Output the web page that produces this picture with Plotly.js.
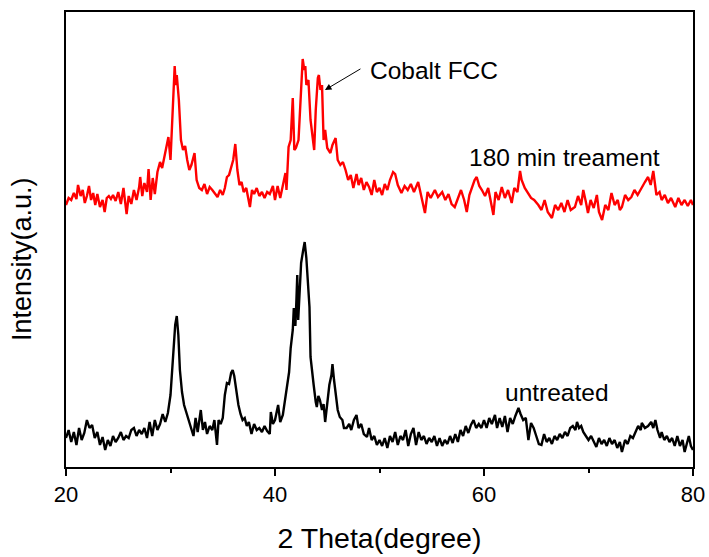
<!DOCTYPE html>
<html>
<head>
<meta charset="utf-8">
<script src="https://cdn.plot.ly/plotly-3.0.1.min.js"></script>
<style>html,body{margin:0;padding:0;background:#fff}#chart{width:709px;height:557px}</style>
</head>
<body>
<div id="chart"></div>
<script>
// 2 Theta (degree) and intensity (a.u.) for the untreated sample
const untreatedTheta = [20.0,20.25,20.5,20.75,21.0,21.25,21.5,21.75,22.0,22.25,22.5,22.75,23.0,23.25,23.5,23.75,24.0,24.25,24.5,24.75,25.0,25.25,25.5,25.75,26.0,26.25,26.5,26.75,27.0,27.25,27.5,27.75,28.0,28.25,28.5,28.75,29.0,29.25,29.5,29.75,30.0,30.25,30.45,30.6,30.75,30.9,31.1,31.3,31.5,31.75,32.0,32.2,32.4,32.6,32.9,33.1,33.3,33.5,33.75,34.0,34.2,34.45,34.6,34.8,35.0,35.2,35.4,35.6,35.8,35.95,36.1,36.3,36.5,36.7,36.9,37.1,37.3,37.5,37.75,38.0,38.25,38.5,38.75,39.0,39.25,39.5,39.6,39.8,40.0,40.3,40.5,40.75,41.0,41.2,41.35,41.5,41.7,41.8,41.95,42.05,42.13,42.22,42.35,42.5,42.7,42.84,43.0,43.15,43.3,43.4,43.55,43.7,43.9,44.0,44.15,44.3,44.5,44.65,44.8,45.0,45.2,45.4,45.5,45.65,45.8,46.0,46.2,46.45,46.6,46.85,47.1,47.3,47.55,47.8,48.0,48.25,48.5,48.8,49.0,49.25,49.5,49.75,50.0,50.25,50.5,50.75,51.0,51.25,51.5,51.75,52.0,52.25,52.5,52.75,53.0,53.25,53.5,53.75,54.0,54.25,54.5,54.75,55.0,55.25,55.5,55.75,56.0,56.25,56.5,56.75,57.0,57.25,57.5,57.75,58.0,58.25,58.5,58.75,59.0,59.25,59.5,59.75,60.0,60.25,60.5,60.75,61.05,61.25,61.5,61.75,62.0,62.25,62.5,62.75,63.0,63.3,63.5,63.75,64.0,64.25,64.5,64.75,65.0,65.25,65.5,65.75,66.0,66.25,66.5,66.75,67.0,67.25,67.5,67.75,68.0,68.25,68.5,68.75,68.9,69.1,69.3,69.5,69.75,70.0,70.25,70.5,70.75,71.0,71.25,71.5,71.75,72.0,72.25,72.5,72.75,73.0,73.2,73.5,73.75,74.0,74.25,74.5,74.75,75.0,75.1,75.4,75.7,76.0,76.2,76.4,76.6,76.85,77.0,77.25,77.5,77.75,78.0,78.25,78.5,78.75,79.0,79.2,79.4,79.6,79.8,80.0];
const untreatedIntensity = [62,70,58,68,55,72,60,67,80,72,75,62,68,55,63,50,60,54,64,58,62,68,60,64,62,70,72,64,70,66,72,62,78,64,80,70,76,86,78,87,105,140,175,184,165,130,108,95,88,80,72,64,82,68,90,70,78,66,74,70,80,55,80,76,82,105,117,116,127,130,124,107,95,86,80,82,74,78,66,76,70,72,68,74,69,66,88,76,80,95,78,85,102,120,128,152,170,192,174,200,225,180,210,237,250,258,242,220,193,143,125,115,98,93,104,100,90,96,78,100,115,125,136,120,105,90,83,80,72,72,76,70,80,85,72,76,66,63,72,60,64,55,60,54,62,52,64,58,68,55,64,60,70,54,66,72,55,68,60,64,56,62,58,64,54,62,54,60,56,64,57,66,58,70,64,74,67,75,80,72,76,72,80,72,82,76,85,72,82,73,84,68,82,76,84,92,86,80,82,60,77,72,64,56,55,66,58,62,56,64,60,66,62,68,64,72,74,70,78,72,74,68,64,60,64,58,53,62,56,60,54,62,56,60,52,58,48,60,56,64,62,68,74,70,77,72,74,78,72,80,70,62,68,60,64,58,62,54,64,54,60,48,56,64,54,50];

// 2 Theta (degree) and intensity (a.u.) after 180 min treatment
const treatedTheta = [20.0,20.25,20.5,20.75,21.0,21.15,21.4,21.6,21.8,22.0,22.2,22.4,22.6,22.8,23.0,23.25,23.5,23.7,23.9,24.1,24.3,24.5,24.75,25.0,25.25,25.5,25.8,26.0,26.25,26.5,26.75,27.0,27.1,27.3,27.5,27.75,27.9,28.1,28.3,28.5,28.75,29.0,29.2,29.4,29.6,29.8,30.0,30.2,30.4,30.5,30.6,30.8,31.0,31.2,31.4,31.6,31.8,32.0,32.3,32.5,32.75,33.0,33.25,33.5,33.75,34.0,34.25,34.5,34.75,35.0,35.2,35.4,35.6,35.8,36.0,36.2,36.4,36.6,36.8,37.0,37.25,37.6,37.8,38.0,38.25,38.5,38.75,39.0,39.25,39.5,39.8,40.0,40.25,40.5,40.75,41.0,41.1,41.3,41.5,41.7,41.85,42.0,42.25,42.5,42.65,42.8,42.9,43.0,43.2,43.4,43.6,43.75,43.9,44.1,44.2,44.35,44.5,44.65,44.8,45.0,45.3,45.5,45.8,46.0,46.25,46.5,46.75,47.0,47.25,47.5,47.8,48.0,48.25,48.5,48.75,49.0,49.25,49.5,49.75,50.0,50.25,50.5,50.75,51.0,51.3,51.5,51.75,52.1,52.4,52.7,53.0,53.3,53.7,54.0,54.35,54.6,54.9,55.3,55.6,56.0,56.3,56.6,56.9,57.2,57.5,57.8,58.1,58.35,58.6,58.9,59.1,59.3,59.55,59.8,60.1,60.4,60.65,60.9,61.1,61.4,61.7,62.0,62.3,62.65,62.9,63.2,63.45,63.6,63.9,64.2,64.5,64.8,65.2,65.5,65.8,66.1,66.5,66.8,67.1,67.4,67.7,68.0,68.3,68.7,69.0,69.3,69.5,69.75,69.95,70.2,70.5,70.8,71.0,71.3,71.6,71.9,72.2,72.5,72.8,73.0,73.2,73.5,73.8,74.1,74.4,74.7,75.1,75.4,75.7,75.95,76.2,76.5,76.8,77.0,77.3,77.6,77.9,78.3,78.6,78.9,79.2,79.5,79.8,80.0];
const treatedIntensity = [295,302,300,307,301,315,304,310,297,304,314,300,307,295,306,293,300,288,302,304,301,305,299,308,296,312,286,304,296,310,300,313,323,304,317,308,331,300,322,306,328,338,332,342,350,363,340,390,434,415,425,400,360,350,354,340,330,335,347,320,312,310,316,306,313,310,307,303,310,305,312,323,325,333,340,356,330,315,318,308,312,293,310,306,312,304,308,302,308,306,314,300,314,302,315,327,310,353,360,402,350,352,360,410,441,430,434,415,420,380,365,350,390,422,425,410,415,360,370,352,347,355,362,340,335,338,330,320,325,312,326,315,322,310,318,313,305,320,308,312,305,316,310,320,328,326,315,307,314,310,316,308,318,305,287,308,302,310,303,308,300,306,296,293,302,310,300,288,305,315,320,323,314,310,304,312,300,285,308,300,313,302,310,297,312,308,329,320,312,307,302,300,295,290,300,288,282,295,290,297,288,300,290,293,304,295,310,298,287,300,292,305,288,280,295,290,307,295,300,290,293,305,300,303,310,305,313,318,323,315,329,305,308,300,305,297,302,293,302,295,300,294,300,295];

const xTickValues = [20, 40, 60, 80];
const xTickLabels = ['20', '40', '60', '80'];

const FONT = 'Liberation Sans, Arial, sans-serif';

const traces = [
  {x: untreatedTheta, y: untreatedIntensity, type: 'scatter', mode: 'lines',
   line: {color: '#000000', width: 2.4}, name: 'untreated', showlegend: false},
  {x: treatedTheta, y: treatedIntensity, type: 'scatter', mode: 'lines',
   line: {color: '#ff0000', width: 2.4}, name: '180 min treament', showlegend: false}
];

const layout = {
  width: 709, height: 557,
  margin: {l: 66, r: 16, t: 12, b: 90},
  paper_bgcolor: '#ffffff', plot_bgcolor: '#ffffff',
  font: {family: FONT, color: '#000000', size: 22},
  showlegend: false,
  xaxis: {
    range: [20, 80],
    tickvals: xTickValues, ticktext: xTickLabels,
    ticks: 'outside', ticklen: 7, tickwidth: 2, tickcolor: '#000',
    minor: {dtick: 10, ticks: 'outside', ticklen: 4, tickwidth: 2, tickcolor: '#000'},
    showline: true, linewidth: 2, linecolor: '#000', mirror: true,
    showgrid: false, zeroline: false,
    tickfont: {family: FONT, size: 22, color: '#000'},
    title: {text: '2 Theta(degree)', font: {family: FONT, size: 28.5, color: '#000'}, standoff: 22}
  },
  yaxis: {
    range: [33, 488],
    showticklabels: false, ticks: '',
    showline: true, linewidth: 2, linecolor: '#000', mirror: true,
    showgrid: false, zeroline: false
  },
  annotations: [
    {x: -0.0702, y: 0.457, xref: 'paper', yref: 'paper', text: 'Intensity(a.u.)', textangle: -90,
     showarrow: false, xanchor: 'center', yanchor: 'middle',
     font: {family: FONT, size: 27, color: '#000'}},
    {x: 48.9, y: 430, xref: 'x', yref: 'y', text: 'Cobalt FCC', showarrow: false,
     xanchor: 'left', yanchor: 'middle', font: {family: FONT, size: 24.5, color: '#000'}},
    {x: 44.78, y: 410, xref: 'x', yref: 'y', text: '', showarrow: true,
     ax: 37, ay: -22, arrowhead: 2, arrowsize: 1.3, arrowwidth: 1, arrowcolor: '#000'},
    {x: 58.37, y: 343, xref: 'x', yref: 'y', text: '180 min treament', showarrow: false,
     xanchor: 'left', yanchor: 'middle', font: {family: FONT, size: 24.5, color: '#000'}},
    {x: 66.98, y: 108, xref: 'x', yref: 'y', text: 'untreated', showarrow: false,
     xanchor: 'center', yanchor: 'middle', font: {family: FONT, size: 24.5, color: '#000'}}
  ]
};

Plotly.newPlot('chart', traces, layout, {staticPlot: true, displayModeBar: false});
</script>
</body>
</html>
